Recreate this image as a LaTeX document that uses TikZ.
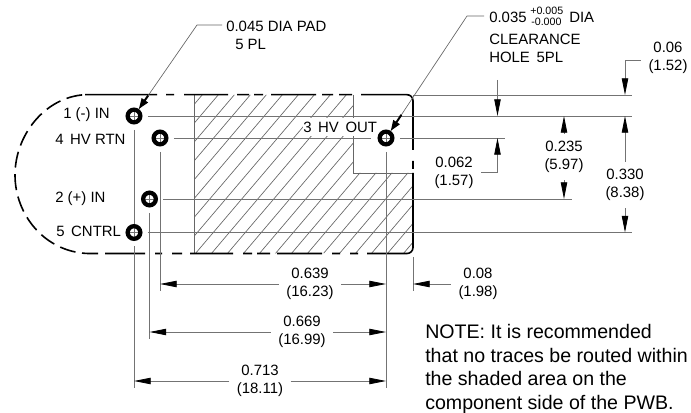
\documentclass[tikz,border=0pt]{standalone}
\usepackage{fontspec}
\setmainfont{Liberation Sans}
\usetikzlibrary{arrows.meta}

\tikzset{
  extline/.style={draw=black!55,line width=.6pt},
  dimline/.style={draw=black!55,line width=.6pt,-{Triangle[length=12.5pt,width=4.8pt,color=black]}},
  lead/.style={draw=black!60,line width=.5pt},
  hatch/.style={draw=black!60,line width=.5pt},
  outline/.style={draw=black,line width=1.2pt},
  dimtext/.style={align=center,font=\fontsize{11.2}{13.5}\selectfont,inner sep=5.5pt},
  label/.style={anchor=west,inner sep=0pt,font=\fontsize{11.2}{13.5}\selectfont},
  tol/.style={anchor=west,inner sep=0pt,font=\fontsize{8}{8}\selectfont},
  pad/.style={circle,draw=black,line width=3.2pt,fill=white,minimum size=9.5pt,inner sep=0pt,
    path picture={\draw[black!55,line width=.5pt]
      (path picture bounding box.north) -- (path picture bounding box.south)
      (path picture bounding box.west) -- (path picture bounding box.east);}}
}

\begin{document}
\begin{tikzpicture}
  [x=.75pt,y=-.75pt]
  \useasboundingbox (0,0) rectangle (691,413);

  % shaded area
  \begin{scope}
    \clip (194,95) -- (353,95) -- (353,173) -- (413,173) -- (413,247)
      arc[start angle=0,end angle=90,radius=6] -- (194,253.5) -- cycle;
    \foreach \i in {-15,...,14}
      \draw[hatch] (195+16*\i,254) -- ++(170,-200);
  \end{scope}
  \draw[hatch,line width=.6pt] (194,95) -- (194,253);
  \draw[hatch,line width=.6pt] (353,95) -- (353,173) -- (413,173);

  % outline
  \draw[outline,dash pattern=on 12pt off 5pt]
    (98,253.5) -- (88,253.5) .. controls (45,252) and (15,215) .. (15,175)
    .. controls (15,135) and (45,97) .. (85,94.7);
  \draw[outline] (85,94.7) -- (157,94.7) (166,94.7) -- (174,94.7) (184,94.7) -- (228,94.7)
    (237,94.7) -- (249,94.7) (254,94.7) -- (263,94.7) (271,94.7) -- (316,94.7)
    (322,94.7) -- (333,94.7) (339,94.7) -- (352,94.7)
    (361,94.7) -- (407,94.7) arc[start angle=-90,end angle=0,radius=6] -- (413,150)
    (413,161) -- (413,169) (413,173) -- (413,247.5)
    arc[start angle=0,end angle=90,radius=6] -- (367,253.5)
    (358,253.5) -- (350,253.5) (340,253.5) -- (332,253.5) (322,253.5) -- (277,253.5)
    (270,253.5) -- (257,253.5) (252,253.5) -- (243,253.5) (233,253.5) -- (190,253.5)
    (182,253.5) -- (172,253.5) (162,253.5) -- (155,253.5) (145,253.5) -- (105,253.5);

  % pads
  \node[pad] (p1) at (134,116) {};
  \node[pad] (p4) at (160,138) {};
  \node[pad] (p2) at (149.5,199) {};
  \node[pad] (p5) at (134,232.5) {};
  \node[pad] (p3) at (386,138) {};

  % pin labels
  \node[label] (l1) at (63,115) {1 (-) IN};
  \node[label] (l4) at (55,139) {4\, HV RTN};
  \node[label] (l2) at (55,199) {2 (+) IN};
  \node[label] (l5) at (56,231) {5\, CNTRL};
  \node[label,fill=white,inner ysep=2.5pt] (l3) at (303,127) {3\, HV\, OUT};

  % callouts
  \node[label] (padnote) at (226,26) {0.045 DIA PAD};
  \node[label] (padnote2) at (235,44) {5 PL};
  \node[label] (holenote) at (489,17) {0.035};
  \node[tol] (tolup) at (530,11) {+0.005};
  \node[tol] (toldown) at (531,22) {-0.000};
  \node[label] (holedia) at (569,17) {DIA};
  \node[label] (holenote2) at (489,39) {CLEARANCE};
  \node[label] (holenote3) at (489,57) {HOLE\, 5PL};

  % dimension texts
  \node[dimtext] (d06) at (668,58) {0.06\\(1.52)};
  \node[dimtext] (d062) at (454,172.5) {0.062\\(1.57)};
  \node[dimtext] (d235) at (564,157) {0.235\\(5.97)};
  \node[dimtext] (d330) at (625,185) {0.330\\(8.38)};
  \node[dimtext] (d639) at (310,284) {0.639\\(16.23)};
  \node[dimtext] (d669) at (302,332) {0.669\\(16.99)};
  \node[dimtext] (d713) at (260,381) {0.713\\(18.11)};
  \node[dimtext] (d08) at (478,284) {0.08\\(1.98)};

  % note
  \node[anchor=north west,align=left,inner sep=0pt,font=\fontsize{14.7}{17.8}\selectfont] (note) at (425,324)
    {NOTE: It is recommended\\that no traces be routed within\\the shaded area on the\\component side of the PWB.};

  % end points of extension lines
  \coordinate (a1) at (413,95);    \coordinate (a2) at (632,95);
  \coordinate (b2) at (632,116);
  \coordinate (c1) at (371,138);   \coordinate (c2) at (505,138);
  \coordinate (e2) at (572,199);
  \coordinate (f2) at (632,232.5);
  \coordinate (v1) at (134,388);
  \coordinate (v2) at (149.5,339);
  \coordinate (v4) at (160,291);
  \coordinate (v3) at (386,388);
  \coordinate (o1) at (413,257);   \coordinate (o2) at (413,291);

  \draw[extline] (a1) -- (a2);
  \draw[extline] (o1) -- (o2);
  \foreach \from/\to in {p1/b2,p4/c1,p3/c2,p2/e2,p5/f2,p1/p5,p5/v1,p2/v2,p4/v4,p3/v3}
    \draw[extline,shorten <=4pt] (\from) -- (\to);

  % dimension arrows
  \coordinate (t639l) at (160,284);   \coordinate (t639r) at (386,284);
  \coordinate (t669l) at (149.5,332); \coordinate (t669r) at (386,332);
  \coordinate (t713l) at (134,381);   \coordinate (t713r) at (386,381);
  \coordinate (t08) at (413,284);
  \coordinate (t235a) at (564,116);   \coordinate (t235b) at (564,199);
  \coordinate (t330a) at (625,116);   \coordinate (t330b) at (625,232.5);
  \coordinate (s062a) at (497.5,80);  \coordinate (t062a) at (497.5,116);
  \coordinate (t062b) at (497.5,138);
  \coordinate (k06) at (625,60);      \coordinate (t06) at (625,95);

  \foreach \from/\to in {d639/t639l,d639/t639r,d669/t669l,d669/t669r,d713/t713l,d713/t713r,d08/t08,
    d235/t235a,d235/t235b,d330/t330a,d330/t330b}
    \draw[dimline] (\from) -- (\to);
  \draw[dimline] (s062a) -- (t062a);
  \draw[dimline] (d062) -| (t062b);
  \draw[dimline] (d06.west |- k06) -- (k06) -- (t06);

  % leaders
  \coordinate (k1) at (197,25);
  \coordinate (k2) at (467,16);
  \draw[lead] (padnote.west) ++(-4,-1) -- (k1) -- (p1);
  \draw[lead] (holenote.west) ++(-5,-1) -- (k2) -- (p3);
  \path (k1) -- (p1) coordinate[pos=.84] (m1);
  \path (k2) -- (p3) coordinate[pos=.86] (m3);
  \draw[line width=1.5pt,-{Triangle[length=8pt,width=5.5pt]}] (m1) -- (p1);
  \draw[line width=1.5pt,-{Triangle[length=8pt,width=5.5pt]}] (m3) -- (p3);
\end{tikzpicture}
\end{document}
